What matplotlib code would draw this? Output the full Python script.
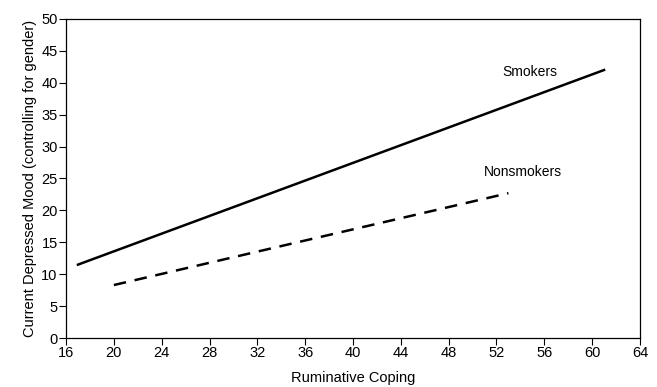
import matplotlib
matplotlib.use("Agg")
import matplotlib.pyplot as plt

smokers_x = [17, 61]
smokers_y = [11.5, 42.0]
nonsmokers_x = [20, 53]
nonsmokers_y = [8.3, 22.7]
xticks = list(range(16, 65, 4))
yticks = list(range(0, 51, 5))

plt.rcParams['font.family'] = ['Liberation Sans', 'DejaVu Sans']
fig = plt.figure(figsize=(6.57, 3.87), dpi=100)
ax = fig.add_axes([0.1005, 0.1266, 0.8735, 0.8244])
ax.plot(smokers_x, smokers_y, color='black', lw=1.8)
ax.plot(nonsmokers_x, nonsmokers_y, color='black', lw=1.8, dashes=(5, 3.5))
ax.set_xlim(16, 64)
ax.set_ylim(0, 50)
ax.set_xticks(xticks)
ax.set_yticks(yticks)
ax.tick_params(labelsize=10.5, length=5, width=0.8, direction='out', pad=1)
for s in ax.spines.values():
    s.set_linewidth(0.9)
ax.text(54.8, 41.7, 'Smokers', fontsize=10, ha='center', va='center')
ax.text(54.2, 26.0, 'Nonsmokers', fontsize=10, ha='center', va='center')
ax.set_xlabel('Ruminative Coping', fontsize=10.5, labelpad=8)
ax.set_ylabel('Current Depressed Mood (controlling for gender)', fontsize=10.5, labelpad=3)
fig.savefig('out.png', dpi=100)
